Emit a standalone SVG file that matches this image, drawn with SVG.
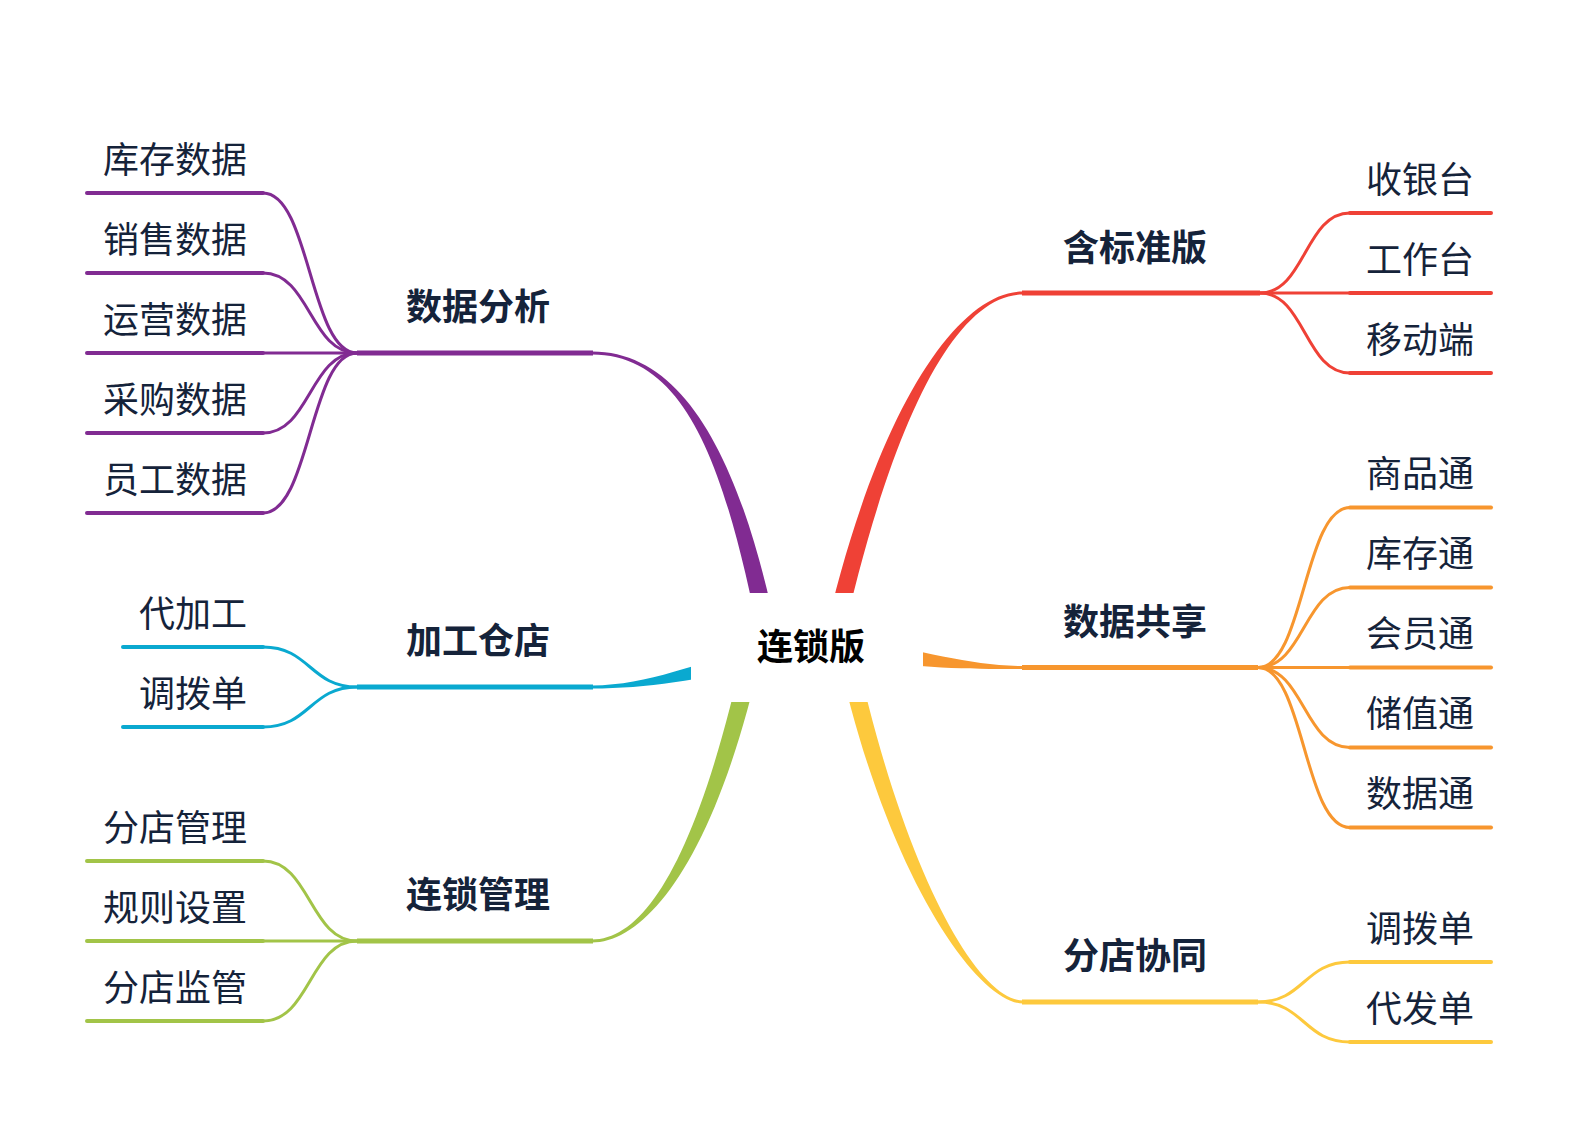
<svg xmlns="http://www.w3.org/2000/svg" width="1579" height="1131" viewBox="0 0 1579 1131">
<style>
.t{font-family:"Noto Sans CJK SC","Noto Sans",sans-serif;font-size:36px;fill:#15233A}
.b{font-weight:700}
.c{font-weight:700;fill:#000}
.u{fill:none;stroke-width:4;stroke-linecap:round}
.m{fill:none;stroke-width:5}
.k{fill:none;stroke-width:3}
.pu{stroke:#812B92}.re{stroke:#EF4136}.cy{stroke:#0AA9D0}.or{stroke:#F7962E}.gr{stroke:#A2C448}.ye{stroke:#FDC93D}
</style>
<rect width="1579" height="1131" fill="#fff"/>
<g id="connectors">
  <path fill="#812B92" d="M592,351.5 C690,351.5 744.8,473.2 778.8,643.2 L761.2,646.8 C727.2,476.8 690,354.5 592,354.5Z"/>
  <path fill="#EF4136" d="M1023,294.5 C955,294.5 890.8,422 840.8,647 L823.2,643 C873.2,418 955,291.5 1023,291.5Z"/>
  <path fill="#0AA9D0" d="M592,685.5 C650,685.5 698.1,661.2 768.1,646.2 L771.9,663.8 C701.9,678.8 650,688.5 592,688.5Z"/>
  <path fill="#F7962E" d="M1023,669 C970,669 923.6,668.9 848.6,656.9 L851.4,639.1 C926.4,651.1 970,666 1023,666Z"/>
  <path fill="#A2C448" d="M592,939.5 C645,939.5 698.2,858.1 745.2,643.1 L762.8,646.9 C715.8,861.9 645,942.5 592,942.5Z"/>
  <path fill="#FDC93D" d="M1023,1003.5 C978,1003.5 885.9,876.9 836.2,646.9 L853.8,643.1 C903.5,873.1 978,1000.5 1023,1000.5Z"/>
  <g class="k pu">
    <path d="M357,353 C310,353 310,193 263,193"/>
    <path d="M357,353 C310,353 310,273 263,273"/>
    <path d="M357,353 L263,353"/>
    <path d="M357,353 C310,353 310,433 263,433"/>
    <path d="M357,353 C310,353 310,513 263,513"/>
  </g>
  <g class="k re">
    <path d="M1260,293 C1305,293 1305,213 1350,213"/>
    <path d="M1260,293 L1350,293"/>
    <path d="M1260,293 C1305,293 1305,373 1350,373"/>
  </g>
  <g class="k cy">
    <path d="M357,687 C310,687 310,647 263,647"/>
    <path d="M357,687 C310,687 310,727 263,727"/>
  </g>
  <g class="k or">
    <path d="M1258,667.5 C1304,667.5 1304,507.5 1350,507.5"/>
    <path d="M1258,667.5 C1304,667.5 1304,587.5 1350,587.5"/>
    <path d="M1258,667.5 L1350,667.5"/>
    <path d="M1258,667.5 C1304,667.5 1304,747.5 1350,747.5"/>
    <path d="M1258,667.5 C1304,667.5 1304,827.5 1350,827.5"/>
  </g>
  <g class="k gr">
    <path d="M357,941 C310,941 310,861 263,861"/>
    <path d="M357,941 L263,941"/>
    <path d="M357,941 C310,941 310,1021 263,1021"/>
  </g>
  <g class="k ye">
    <path d="M1258,1002 C1304,1002 1304,962 1350,962"/>
    <path d="M1258,1002 C1304,1002 1304,1042 1350,1042"/>
  </g>
</g>

<g id="center">
  <rect x="691" y="593" width="232" height="109" fill="#fff"/>
  <text class="t c" x="811" y="660" text-anchor="middle">连锁版</text>
</g>

<g id="b-shujufenxi">
  <line class="m pu" x1="357" y1="353" x2="593" y2="353"/>
  <text class="t b" x="406" y="320">数据分析</text>
</g>
<g id="l-kucunshuju"><line class="u pu" x1="87" y1="193" x2="263" y2="193"/><text class="t" x="103" y="172.5">库存数据</text></g>
<g id="l-xiaoshoushuju"><line class="u pu" x1="87" y1="273" x2="263" y2="273"/><text class="t" x="103" y="252.5">销售数据</text></g>
<g id="l-yunyingshuju"><line class="u pu" x1="87" y1="353" x2="263" y2="353"/><text class="t" x="103" y="332.5">运营数据</text></g>
<g id="l-caigoushuju"><line class="u pu" x1="87" y1="433" x2="263" y2="433"/><text class="t" x="103" y="412.5">采购数据</text></g>
<g id="l-yuangongshuju"><line class="u pu" x1="87" y1="513" x2="263" y2="513"/><text class="t" x="103" y="492.5">员工数据</text></g>

<g id="b-hanbiaozhunban">
  <line class="m re" x1="1022" y1="293" x2="1260" y2="293"/>
  <text class="t b" x="1063" y="260.5">含标准版</text>
</g>
<g id="l-shouyintai"><line class="u re" x1="1350" y1="213" x2="1491" y2="213"/><text class="t" x="1366" y="192.5">收银台</text></g>
<g id="l-gongzuotai"><line class="u re" x1="1350" y1="293" x2="1491" y2="293"/><text class="t" x="1366" y="272.5">工作台</text></g>
<g id="l-yidongduan"><line class="u re" x1="1350" y1="373" x2="1491" y2="373"/><text class="t" x="1366" y="352.5">移动端</text></g>

<g id="b-jiagongcangdian">
  <line class="m cy" x1="357" y1="687" x2="593" y2="687"/>
  <text class="t b" x="406" y="654">加工仓店</text>
</g>
<g id="l-daijiagong"><line class="u cy" x1="123" y1="647" x2="263" y2="647"/><text class="t" x="139" y="626.5">代加工</text></g>
<g id="l-diaobodan1"><line class="u cy" x1="123" y1="727" x2="263" y2="727"/><text class="t" x="139" y="706.5">调拨单</text></g>

<g id="b-shujugongxiang">
  <line class="m or" x1="1022" y1="667.5" x2="1258" y2="667.5"/>
  <text class="t b" x="1063" y="634.5">数据共享</text>
</g>
<g id="l-shangpintong"><line class="u or" x1="1350" y1="507.5" x2="1491" y2="507.5"/><text class="t" x="1366" y="487">商品通</text></g>
<g id="l-kucuntong"><line class="u or" x1="1350" y1="587.5" x2="1491" y2="587.5"/><text class="t" x="1366" y="567">库存通</text></g>
<g id="l-huiyuantong"><line class="u or" x1="1350" y1="667.5" x2="1491" y2="667.5"/><text class="t" x="1366" y="647">会员通</text></g>
<g id="l-chuzhitong"><line class="u or" x1="1350" y1="747.5" x2="1491" y2="747.5"/><text class="t" x="1366" y="727">储值通</text></g>
<g id="l-shujutong"><line class="u or" x1="1350" y1="827.5" x2="1491" y2="827.5"/><text class="t" x="1366" y="807">数据通</text></g>

<g id="b-liansuoguanli">
  <line class="m gr" x1="357" y1="941" x2="593" y2="941"/>
  <text class="t b" x="406" y="908">连锁管理</text>
</g>
<g id="l-fendianguanli"><line class="u gr" x1="87" y1="861" x2="263" y2="861"/><text class="t" x="103" y="840.5">分店管理</text></g>
<g id="l-guizeshezhi"><line class="u gr" x1="87" y1="941" x2="263" y2="941"/><text class="t" x="103" y="920.5">规则设置</text></g>
<g id="l-fendianjianguan"><line class="u gr" x1="87" y1="1021" x2="263" y2="1021"/><text class="t" x="103" y="1000.5">分店监管</text></g>

<g id="b-fendianxietong">
  <line class="m ye" x1="1022" y1="1002" x2="1258" y2="1002"/>
  <text class="t b" x="1063" y="969">分店协同</text>
</g>
<g id="l-diaobodan2"><line class="u ye" x1="1350" y1="962" x2="1491" y2="962"/><text class="t" x="1366" y="941.5">调拨单</text></g>
<g id="l-daifadan"><line class="u ye" x1="1350" y1="1042" x2="1491" y2="1042"/><text class="t" x="1366" y="1021.5">代发单</text></g>
</svg>
